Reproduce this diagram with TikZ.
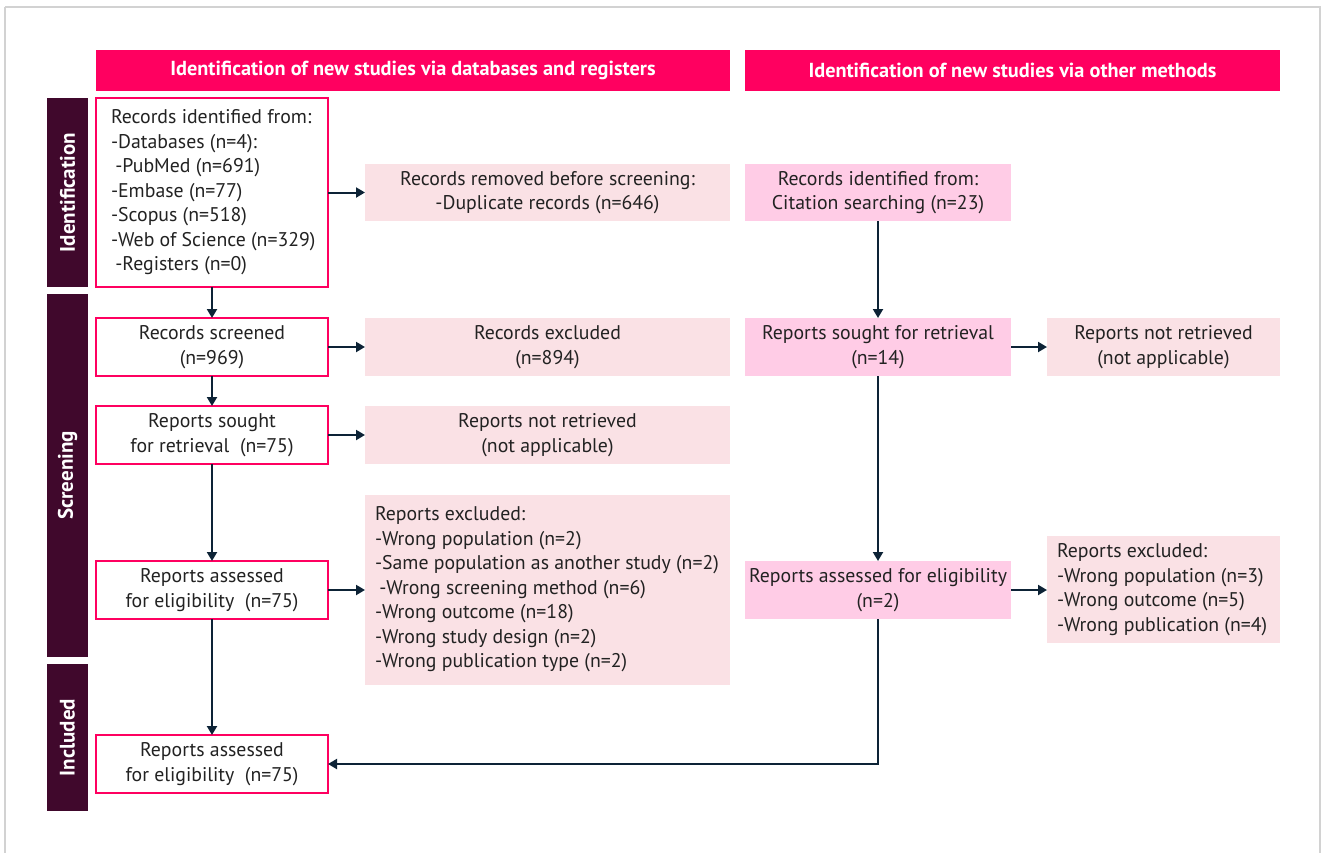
\documentclass[tikz,border=0pt]{standalone}
\usepackage{fontspec}
\setmainfont{PT Sans}
\usetikzlibrary{arrows.meta}
\definecolor{hot}{HTML}{FF0060}
\definecolor{lightpk}{HTML}{FAE1E5}
\definecolor{citepk}{HTML}{FFCCE6}
\definecolor{plum}{HTML}{40082C}
\definecolor{navy}{HTML}{0D2336}
\definecolor{txt}{HTML}{222222}
\definecolor{frame}{HTML}{D2D2D2}
\newcommand\fs{\fontsize{19.8}{24.5}\selectfont}
\newcommand\hfs{\fontsize{20.3}{24.5}\selectfont}
\newcommand\sfs{\fontsize{21}{24.5}\selectfont}
\newcommand\bx[6]{\node[#1, minimum width={(#4-#2)*1pt}, minimum height={(#5-#3)*1pt}] (#6) at ({(#2+#4)/2},{(#3+#5)/2})}
\tikzset{
  base/.style={inner sep=0pt, outer sep=0pt, font=\fs, text=txt},
  wbox/.style={base, draw=hot, line width=2pt, fill=white, align=center},
  lbox/.style={base, fill=lightpk, align=center},
  cbox/.style={base, fill=citepk, align=center},
  hdr/.style={base, fill=hot, text=white, font=\hfs\bfseries},
  side/.style={base, fill=plum},
  sidetxt/.style={base, text=white, font=\sfs\bfseries, rotate=90},
  arr/.style={-{Triangle[length=9pt,width=10pt]}, line width=2pt, draw=navy}
}
\begin{document}
\begin{tikzpicture}[x=1pt,y=-1pt]
\useasboundingbox (0,0) rectangle (1322,852);
\draw[frame, line width=2pt] (5,7) -- (5,856) (5,7) -- (1320,7) -- (1320,856);
% headers
\bx{hdr}{96}{50}{730}{91}{h1} {Identification of new studies via databases and registers};
\bx{hdr}{745}{50}{1280}{91}{h2} {Identification of new studies via other methods};
% side bars
\bx{side}{47}{98}{88}{287}{s1} {};
\node[sidetxt] (s1t) at (s1.center) {Identification};
\bx{side}{47}{294}{88}{657}{s2} {};
\node[sidetxt] (s2t) at (s2.center) {Screening};
\bx{side}{47}{664}{88}{811}{s3} {};
\node[sidetxt] (s3t) at (s3.center) {Included};
% left column
\bx{wbox}{96}{98}{328}{287}{A} {};
\node[base, align=left, anchor=west] (At) at (111,192.5) {Records identified from:\\-Databases (n=4):\\\hspace{0.22em}-PubMed (n=691)\\-Embase (n=77)\\-Scopus (n=518)\\-Web of Science (n=329)\\\hspace{0.22em}-Registers (n=0)};
\bx{lbox}{365}{164}{730}{221}{rem} {Records removed before screening:\\-Duplicate records (n=646)};
\bx{wbox}{96}{318}{328}{376}{scr} {Records screened\\(n=969)};
\bx{lbox}{365}{318}{730}{376}{exc} {Records excluded\\(n=894)};
\bx{wbox}{96}{406}{328}{464}{sou} {Reports sought\\for retrieval\ \ (n=75)};
\bx{lbox}{365}{406}{730}{464}{nre} {Reports not retrieved\\(not applicable)};
\bx{lbox}{365}{495}{730}{685}{rex} {};
\node[base, align=left, anchor=west] (rext) at (375,589.5) {Reports excluded:\\-Wrong population (n=2)\\-Same population as another study (n=2)\\\hspace{0.22em}-Wrong screening method (n=6)\\-Wrong outcome (n=18)\\-Wrong study design (n=2)\\-Wrong publication type (n=2)};
\bx{wbox}{96}{561}{328}{619}{ass} {Reports assessed\\for eligibility\ \ (n=75)};
\bx{wbox}{96}{735}{328}{793}{inc} {Reports assessed\\for eligibility\ \ (n=75)};
% right column
\bx{cbox}{745}{164}{1011}{221}{cit} {Records identified from:\\Citation searching (n=23)};
\bx{cbox}{745}{318}{1011}{376}{souR} {Reports sought for retrieval\\(n=14)};
\bx{lbox}{1047}{318}{1280}{376}{nreR} {Reports not retrieved\\(not applicable)};
\bx{cbox}{745}{561}{1011}{619}{assR} {Reports assessed for eligibility\\(n=2)};
\bx{lbox}{1047}{536}{1280}{643}{rexR} {};
\node[base, align=left, anchor=west] (rexRt) at (1057,589.5) {Reports excluded:\\-Wrong population (n=3)\\-Wrong outcome (n=5)\\-Wrong publication (n=4)};
% arrows
\draw[arr] (A.south) -- (scr.north);
\draw[arr] (scr.south) -- (sou.north);
\draw[arr] (sou.south) -- (ass.north);
\draw[arr] (ass.south) -- (inc.north);
\draw[arr] (A.east |- rem.west) -- (rem.west);
\draw[arr] (scr.east) -- (exc.west);
\draw[arr] (sou.east) -- (nre.west);
\draw[arr] (ass.east) -- (ass.east -| rex.west);
\draw[arr] (cit.south) -- (souR.north);
\draw[arr] (souR.south) -- (assR.north);
\draw[arr] (souR.east) -- (nreR.west);
\draw[arr] (assR.east) -- (assR.east -| rexR.west);
\draw[arr] (assR.south) |- (inc.east);
\end{tikzpicture}
\end{document}
